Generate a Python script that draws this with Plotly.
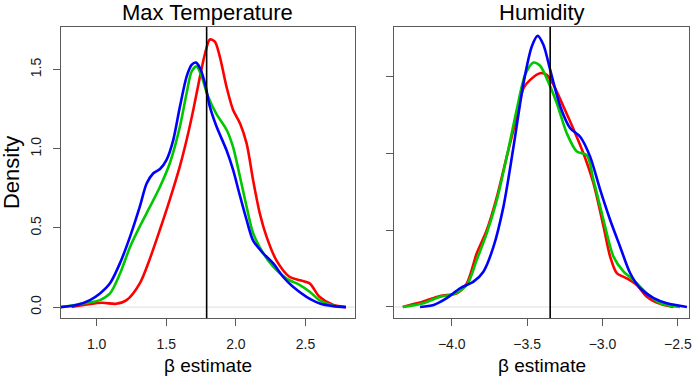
from plotly.subplots import make_subplots
import plotly.graph_objects as go

# density curves, one series per colour
temp_red_x = [0.82, 1.036, 1.14, 1.215, 1.31, 1.38, 1.455, 1.526, 1.598, 1.646, 1.694, 1.742, 1.778,
              1.813, 1.849, 1.885, 1.933, 1.98, 2.03, 2.077, 2.124, 2.172, 2.22, 2.29, 2.387, 2.46,
              2.53, 2.60, 2.70, 2.79]
temp_red_y = [0.0, 0.027, 0.021, 0.044, 0.15, 0.30, 0.49, 0.68, 0.89, 1.055, 1.245, 1.456, 1.60,
              1.69, 1.677, 1.58, 1.39, 1.245, 1.16, 1.034, 0.80, 0.59, 0.445, 0.297, 0.19, 0.17,
              0.15, 0.065, 0.013, 0.0]
temp_green_x = [0.744, 0.904, 1.024, 1.096, 1.167, 1.24, 1.31, 1.383, 1.455, 1.526, 1.598, 1.646,
                1.682, 1.718, 1.754, 1.80, 1.86, 1.933, 1.98, 2.03, 2.077, 2.124, 2.196, 2.268,
                2.364, 2.46, 2.53, 2.60, 2.70, 2.746]
temp_green_y = [0.0, 0.023, 0.044, 0.086, 0.21, 0.38, 0.51, 0.634, 0.76, 0.91, 1.14, 1.35,
                1.487, 1.52, 1.456, 1.33, 1.22, 1.12, 1.01, 0.82, 0.634, 0.466, 0.34, 0.255,
                0.18, 0.139, 0.097, 0.044, 0.008, 0.0]
temp_blue_x = [0.744, 0.856, 0.952, 1.024, 1.096, 1.167, 1.24, 1.31, 1.359, 1.407, 1.455, 1.502,
               1.55, 1.598, 1.646, 1.682, 1.713, 1.742, 1.778, 1.813, 1.861, 1.933, 1.98, 2.03,
               2.077, 2.124, 2.196, 2.268, 2.34, 2.41, 2.507, 2.603, 2.70, 2.79]
temp_blue_y = [0.0, 0.013, 0.044, 0.086, 0.15, 0.276, 0.445, 0.634, 0.78, 0.845, 0.872, 0.93,
               1.055, 1.266, 1.456, 1.53, 1.544, 1.51, 1.413, 1.266, 1.14, 0.99, 0.866, 0.70,
               0.55, 0.42, 0.34, 0.276, 0.19, 0.128, 0.065, 0.023, 0.006, 0.0]

hum_red_x = [-4.325, -4.188, -4.077, -3.967, -3.90, -3.834, -3.768, -3.70, -3.635, -3.569, -3.524,
             -3.48, -3.414, -3.37, -3.325, -3.259, -3.19, -3.126, -3.06, -2.993, -2.949, -2.905,
             -2.84, -2.772, -2.706, -2.617, -2.53]
hum_red_y = [0.0, 0.035, 0.072, 0.089, 0.154, 0.35, 0.50, 0.72, 0.98, 1.24, 1.426,
             1.48, 1.524, 1.513, 1.448, 1.307, 1.154, 1.00, 0.807, 0.524, 0.328, 0.22,
             0.187, 0.143, 0.067, 0.02, 0.0]
hum_green_x = [-4.325, -4.188, -4.077, -3.989, -3.90, -3.834, -3.768, -3.70, -3.635, -3.569, -3.513,
               -3.458, -3.414, -3.37, -3.303, -3.237, -3.17, -3.104, -3.06, -2.993, -2.927, -2.86,
               -2.794, -2.706, -2.617, -2.485]
hum_green_y = [0.0, 0.024, 0.067, 0.083, 0.143, 0.307, 0.48, 0.70, 0.98, 1.285, 1.513,
               1.593, 1.572, 1.49, 1.328, 1.133, 1.013, 0.99, 0.83, 0.567, 0.328, 0.23,
               0.176, 0.089, 0.024, 0.0]
hum_blue_x = [-4.21, -4.12, -4.033, -3.945, -3.856, -3.79, -3.723, -3.657, -3.59, -3.524, -3.469,
              -3.43, -3.392, -3.347, -3.28, -3.214, -3.148, -3.082, -3.015, -2.949, -2.883, -2.816,
              -2.75, -2.66, -2.573, -2.44]
hum_blue_y = [0.0, 0.013, 0.057, 0.122, 0.165, 0.23, 0.393, 0.654, 1.046, 1.459, 1.698,
              1.767, 1.709, 1.546, 1.307, 1.165, 1.11, 0.98, 0.763, 0.567, 0.393, 0.22,
              0.122, 0.057, 0.024, 0.0]

temp_vline = 1.79
hum_vline = -3.347

temp_ticks = [1.0, 1.5, 2.0, 2.5]
hum_ticks = [-4.0, -3.5, -3.0, -2.5]
dens_ticks = [0.0, 0.5, 1.0, 1.5]

RED, GREEN, BLUE = "#FF0000", "#00C800", "#0000FF"
FONT = "Liberation Sans, Arial, sans-serif"

fig = make_subplots(rows=1, cols=2, horizontal_spacing=0.057)

for xs, ys, col in [(temp_red_x, temp_red_y, RED), (temp_green_x, temp_green_y, GREEN),
                    (temp_blue_x, temp_blue_y, BLUE)]:
    fig.add_trace(go.Scatter(x=xs, y=ys, mode="lines", line=dict(color=col, width=2.6, shape="spline",
                                                                    smoothing=0.8),
                             showlegend=False), row=1, col=1)
for xs, ys, col in [(hum_red_x, hum_red_y, RED), (hum_green_x, hum_green_y, GREEN),
                    (hum_blue_x, hum_blue_y, BLUE)]:
    fig.add_trace(go.Scatter(x=xs, y=ys, mode="lines", line=dict(color=col, width=2.6, shape="spline",
                                                                    smoothing=0.8),
                             showlegend=False), row=1, col=2)

# grey zero line and black reference lines
for c in [1, 2]:
    fig.add_hline(y=0, line=dict(color="#DDDDDD", width=1), row=1, col=c, layer="below")
fig.add_vline(x=temp_vline, line=dict(color="black", width=1.6), row=1, col=1)
fig.add_vline(x=hum_vline, line=dict(color="black", width=1.6), row=1, col=2)

axis_style = dict(showline=True, linecolor="#5a5a5a", linewidth=1.2, mirror=True,
                  ticks="outside", ticklen=7, tickcolor="#5a5a5a", showgrid=False,
                  zeroline=False, automargin=False, ticklabelstandoff=6,
                  tickfont=dict(family=FONT, size=14, color="#1a1a1a"))

fig.update_xaxes(domain=[0.088, 0.512], range=[0.744, 2.854], tickvals=temp_ticks,
                 tickformat=".1f", **axis_style, row=1, col=1)
fig.update_xaxes(domain=[0.569, 0.994], range=[-4.381, -2.427], tickvals=hum_ticks,
                 tickformat=".1f", **axis_style, row=1, col=2)
fig.update_yaxes(domain=[0.1587, 0.9286], range=[-0.069, 1.769], tickvals=dens_ticks,
                 tickformat=".1f", tickangle=-90, **axis_style, row=1, col=1)
fig.update_yaxes(domain=[0.1587, 0.9286], range=[-0.072, 1.825], tickvals=dens_ticks,
                 showticklabels=False, **axis_style, row=1, col=2)

# titles and axis labels placed as text
labels = [("Max Temperature", 0.300, 1.0, 22, 0), ("Humidity", 0.7815, 1.0, 22, 0),
          ("β estimate", 0.300, 0.0, 19, 0), ("β estimate", 0.7815, 0.0, 19, 0),
          ("Density", 0.0, 0.5435, 22, -90)]
for text, x, y, size, ang in labels:
    fig.add_annotation(text=text, x=x, y=y, xref="paper", yref="paper",
                       xanchor="left" if ang else "center",
                       yanchor="top" if y == 1.0 else ("bottom" if y == 0.0 else "middle"),
                       yshift=2 if y == 1.0 else 0,
                       xshift=-3 if ang else 0, textangle=ang,
                       showarrow=False, font=dict(family=FONT, size=size, color="black"))

fig.update_layout(width=693, height=378, margin=dict(l=0, r=0, t=0, b=0),
                  plot_bgcolor="white", paper_bgcolor="white")
# drop the page's default body margin so the figure sits at the window's corner
fig.write_html("out.html", config={"displayModeBar": False},
               post_script="document.body.style.margin='0';")
